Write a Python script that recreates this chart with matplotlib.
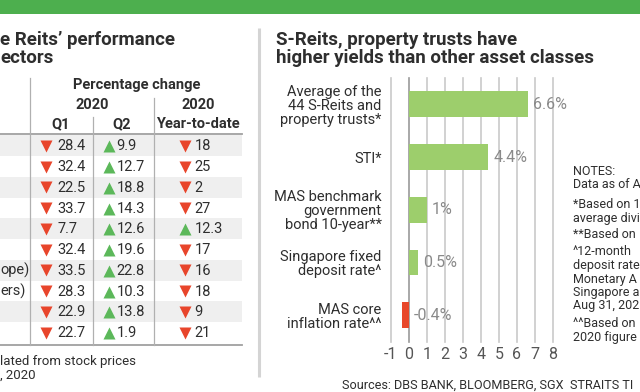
import matplotlib
matplotlib.use("Agg")
import matplotlib.pyplot as plt
from matplotlib.patches import Rectangle

plt.rcParams['font.family'] = ['Roboto', 'DejaVu Sans']

# ---------------- data ----------------
table_q1 = [-28.4, -32.4, -22.5, -33.7, -7.7, -32.4, -33.5, -28.3, -22.9, -22.7]
table_q2 = [9.9, 12.7, 18.8, 14.3, 12.6, 19.6, 22.8, 10.3, 13.8, 1.9]
table_ytd = [-18, -25, -2, -27, 12.3, -17, -16, -18, -9, -21]
row_label_fragments = ["", "", "", "", "", "", "ope)", "ers)", "", ""]

bar_categories = ["Average of the\n44 S-Reits and\nproperty trusts*", "STI*",
                  "MAS benchmark\ngovernment\nbond 10-year**",
                  "Singapore fixed\ndeposit rate^", "MAS core\ninflation rate^^"]
bar_values = [6.6, 4.4, 1.0, 0.5, -0.4]
bar_value_labels = ["6.6%", "4.4%", "1%", "0.5%", "-0.4%"]
x_ticks = list(range(-1, 9))

notes_lines = ["NOTES:", "Data as of A", "*Based on 1", "average divi", "**Based on",
               "^12-month", "deposit rate", "Monetary A", "Singapore a", "Aug 31, 202",
               "^^Based on", "2020 figure"]

# ---------------- style ----------------
W, H = 640, 392
DARK = '#2e2e2e'
GREEN_TOP = '#4daf4e'
BAR_GREEN = '#9dce6c'
BAR_RED = '#e8482b'
TRI_RED = '#e8452b'
TRI_GREEN = '#5cb85a'
GRID = '#c9c9c9'

fig = plt.figure(figsize=(6.4, 3.92), dpi=100)
renderer = fig.canvas.get_renderer()
bg = fig.add_axes([0, 0, 1, 1])
bg.set_xlim(0, W)
bg.set_ylim(H, 0)
bg.axis('off')


def fit_size(text, base, target_px, **kw):
    t = fig.text(0, 0, text, fontsize=base, **kw)
    w = t.get_window_extent(renderer).width
    t.remove()
    return base * target_px / w


# top band
bg.add_patch(Rectangle((0, 0), W, 13.5, color=GREEN_TOP, lw=0))
# vertical separator
bg.plot([258.5, 258.5], [28, 377], color='#d4d4d4', lw=2.2, solid_capstyle='butt')

# ---------------- left: table ----------------
bg.text(0, 44.5, "e Reits\u2019 performance", fontsize=13.5, weight='bold', color=DARK, va='baseline')
bg.text(0, 62.5, "ectors", fontsize=13.5, weight='bold', color=DARK, va='baseline')

# the original uses a condensed bold face; compromise between width and height
hsize = fit_size("Percentage change", 10, 113, weight='bold') * 1.13
hdr = dict(weight='bold', color=DARK, va='baseline', ha='center', fontsize=hsize)
for x, y, s in ((136.5, 88.5, "Percentage change"), (92, 108.5, "2020"), (198, 108.5, "2020"),
                (61, 128, "Q1"), (122, 128, "Q2"), (198, 128, "Year-to-date")):
    bg.text(x, y, s, **hdr)

row0, rowh = 145.8, 20.75
table_right = 242
for i in range(len(table_q1)):
    yc = row0 + i * rowh
    if i % 2 == 0:
        bg.add_patch(Rectangle((0, yc - rowh / 2), table_right, rowh, color='#efefef', lw=0, zorder=0))
    for v, tx, nx in ((table_q1[i], 45.5, 57), (table_q2[i], 109, 116.5), (table_ytd[i], 185, 194.5)):
        up = v > 0
        bg.plot(tx, yc + (0.5 if up else 0), marker='^' if up else 'v', ms=8.8,
                color=TRI_GREEN if up else TRI_RED, mec='none', zorder=3)
        bg.text(nx, yc + 0.5, f"{abs(v):g}", fontsize=10.5, color=DARK, va='center', ha='left')
    if row_label_fragments[i]:
        bg.text(0, yc + 0.5, row_label_fragments[i], fontsize=10.5, color=DARK, va='center', ha='left')

bg.plot([0, table_right], [134, 134], color='#a0a0a0', lw=1.3)
bg.plot([0, table_right], [344.5, 344.5], color='#a0a0a0', lw=1.3)
bg.plot([30, 30], [78, 344.5], color='#b0b0b0', lw=0.9)
bg.plot([92.5, 92.5], [117, 344.5], color='#b0b0b0', lw=0.9)
bg.plot([153.5, 153.5], [98, 344.5], color='#b0b0b0', lw=0.9)

bg.text(0, 364.5, "lated from stock prices", fontsize=9.5, color=DARK, va='baseline')
bg.text(0, 378.5, ", 2020", fontsize=9.5, color=DARK, va='baseline')

# ---------------- right: bar chart ----------------
bg.text(276, 44.5, "S-Reits, property trusts have", fontsize=13.5, weight='bold', color=DARK, va='baseline')
bg.text(276, 62.5, "higher yields than other asset classes", fontsize=13.5, weight='bold', color=DARK,
        va='baseline')

ax_left, ax_right, ax_top, ax_bot = 390.7, 553.0, 78.0, 341.5
ax = fig.add_axes([ax_left / W, 1 - ax_bot / H, (ax_right - ax_left) / W, (ax_bot - ax_top) / H])
ax.set_xlim(-1, 8)
ax.set_ylim(4.5, -0.5)
ax.patch.set_alpha(0)
for s in ax.spines.values():
    s.set_visible(False)
for t in x_ticks:
    ax.axvline(t, color='#9a9a9a' if t == 0 else GRID, lw=1.2, zorder=0, clip_on=False)
ypos = list(range(len(bar_values)))
ax.barh(ypos, bar_values, height=0.49, color=[BAR_GREEN if v >= 0 else BAR_RED for v in bar_values], zorder=2)
for y, v, lbl in zip(ypos, bar_values, bar_value_labels):
    ax.annotate(lbl, (max(v, 0), y), xytext=(3.6, 0), textcoords='offset points', va='center', ha='left',
                color='#8a8a8a', fontsize=11.5)
ax.set_xticks(x_ticks)
ax.set_xticklabels([str(t) for t in x_ticks], fontsize=11.5, color='#555555')
ax.set_yticks(ypos)
ax.set_yticklabels(bar_categories, fontsize=10.5, color=DARK, linespacing=1.0, ha='right')
ax.tick_params(length=0)
ax.tick_params(axis='x', pad=4)
ax.tick_params(axis='y', pad=6.5)

# notes
notes_y = [175, 188.3, 208, 221.7, 237.7, 255, 269.3, 282.7, 296, 309.3, 326.7, 340.7]
for txt, y in zip(notes_lines, notes_y):
    bg.text(573, y, txt, fontsize=9, color=DARK, va='baseline')

bg.text(341.5, 389, "Sources: DBS BANK, BLOOMBERG, SGX", fontsize=9.1, color=DARK, va='baseline')
bg.text(570.5, 389, "STRAITS TI", fontsize=9.1, color=DARK, va='baseline')

fig.savefig("out.png", dpi=100)
